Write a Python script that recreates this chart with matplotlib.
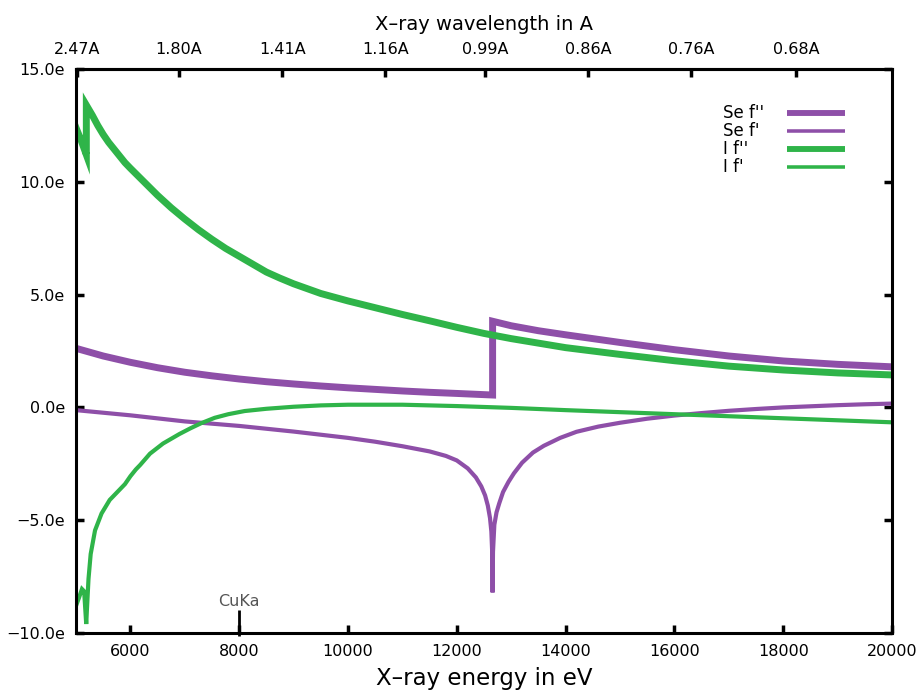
import matplotlib
matplotlib.use("Agg")
import matplotlib.pyplot as plt

# energies (eV) and anomalous scattering factors
se_fpp_e = [5000, 5500, 6000, 6500, 7000, 7500, 8000, 8500, 9000, 9500, 10000,
            10500, 11000, 11500, 12000, 12658, 12658, 13000, 13500, 14000, 15000,
            16000, 17000, 18000, 19000, 20000]
se_fpp = [2.62, 2.28, 2.0, 1.76, 1.56, 1.40, 1.26, 1.14, 1.04, 0.95, 0.87,
          0.80, 0.73, 0.67, 0.62, 0.55, 3.82, 3.62, 3.40, 3.22, 2.88,
          2.56, 2.28, 2.06, 1.91, 1.80]

se_fp_e = [5000, 6000, 7000, 8000, 9000, 10000, 10500, 11000, 11500, 11800, 12000,
           12200, 12350, 12450, 12520, 12570, 12610, 12635, 12650, 12658, 12665,
           12690, 12730, 12780, 12850, 12950, 13050, 13200, 13400, 13600, 13900,
           14200, 14600, 15000, 15500, 16000, 16500, 17000, 17500, 18000, 18500,
           19000, 19500, 20000]
se_fp = [-0.12, -0.35, -0.62, -0.82, -1.07, -1.35, -1.52, -1.72, -1.95, -2.15, -2.35,
         -2.7, -3.1, -3.5, -3.9, -4.35, -4.9, -5.5, -6.4, -8.2, -6.4,
         -5.2, -4.65, -4.25, -3.75, -3.3, -2.92, -2.45, -2.0, -1.7, -1.35,
         -1.08, -0.85, -0.68, -0.5, -0.36, -0.25, -0.15, -0.07, 0.0, 0.05,
         0.1, 0.14, 0.17]

i_fpp_e = [5000, 5100, 5190, 5190, 5300, 5400, 5500, 5600, 5700, 5800, 5900, 6000,
           6250, 6500, 6750, 7000, 7250, 7500, 7750, 8000, 8250, 8500, 8750, 9000,
           9500, 10000, 10500, 11000, 11500, 12000, 12500, 13000, 14000, 15000,
           16000, 17000, 18000, 19000, 20000]
i_fpp = [12.4, 11.8, 11.2, 13.4, 12.95, 12.5, 12.1, 11.75, 11.45, 11.15, 10.85, 10.6,
         10.0, 9.4, 8.85, 8.35, 7.88, 7.45, 7.05, 6.7, 6.35, 6.0, 5.73, 5.48,
         5.05, 4.72, 4.42, 4.12, 3.84, 3.55, 3.28, 3.05, 2.65, 2.35,
         2.07, 1.83, 1.66, 1.53, 1.44]

i_fp_e = [5000, 5060, 5110, 5150, 5188, 5200, 5230, 5270, 5350, 5470, 5620, 5800,
          5900, 6000, 6100, 6180, 6360, 6600, 6900, 7100, 7300, 7550, 7800, 8100,
          8500, 9000, 9500, 10000, 11000, 12000, 13000, 14000, 15000, 16000, 17000,
          18000, 19000, 20000]
i_fp = [-8.8, -8.4, -8.05, -8.15, -9.6, -9.0, -7.6, -6.5, -5.45, -4.7, -4.1, -3.65,
        -3.4, -3.05, -2.75, -2.55, -2.05, -1.6, -1.18, -0.93, -0.7, -0.46, -0.3, -0.16,
        -0.06, 0.03, 0.09, 0.12, 0.12, 0.06, -0.02, -0.12, -0.21, -0.3, -0.39,
        -0.48, -0.57, -0.66]

x_ticks = [6000, 8000, 10000, 12000, 14000, 16000, 18000, 20000]
y_ticks = [-10, -5, 0, 5, 10, 15]
y_labels = ["\u221210.0e", "\u22125.0e", "0.0e", "5.0e", "10.0e", "15.0e"]
wl_ticks = [2.47, 1.80, 1.41, 1.16, 0.99, 0.86, 0.76, 0.68]
cuka_e = 8000
hc = 12398.0  # eV*A

purple = "#8e4fa8"
green = "#2fb449"

fig = plt.figure(figsize=(9.2, 6.91), dpi=100)
ax = fig.add_axes([0.0826, 0.0839, 0.8870, 0.8162])

series = [
    (se_fpp_e, se_fpp, purple, 5, "Se f''"),
    (se_fp_e, se_fp, purple, 3, "Se f'"),
    (i_fpp_e, i_fpp, green, 5, "I f''"),
    (i_fp_e, i_fp, green, 3, "I f'"),
]
for e, v, c, lw, name in series:
    ax.plot(e, v, color=c, lw=lw, solid_joinstyle="miter")

# gnuplot-style key: left-aligned text, samples lined up on the right
for i, (e, v, c, lw, name) in enumerate(series):
    yk = 0.922 - i * 0.032
    ax.text(0.793, yk, name, transform=ax.transAxes, ha="left", va="center",
            fontsize=12)
    ax.plot([0.871, 0.942], [yk, yk], transform=ax.transAxes, color=c,
            lw=lw * 0.85, solid_capstyle="butt")

ax.vlines(cuka_e, -10.15, -9.0, color="black", lw=2, clip_on=False, zorder=5)
ax.text(cuka_e, -8.95, "CuKa", ha="center", va="bottom", fontsize=11.5, color="#555555")

ax.set_xlim(5000, 20000)
ax.set_ylim(-10, 15)
ax.set_xticks(x_ticks)
ax.set_yticks(y_ticks)
ax.set_yticklabels(y_labels)
ax.tick_params(direction="in", length=6, width=2.5, right=True, top=False,
               labelsize=11.5, pad=8)
for s in ax.spines.values():
    s.set_linewidth(2.2)
ax.set_xlabel("X\u2013ray energy in eV", fontsize=16.5, labelpad=6)

secax = ax.secondary_xaxis("top", functions=(lambda e: hc / e, lambda w: hc / w))
secax.set_ticks(wl_ticks)
secax.set_xticklabels(["%.2fA" % w for w in wl_ticks])
secax.tick_params(direction="in", length=6, width=2.5, labelsize=11.5, pad=9)
secax.spines["top"].set_linewidth(2.2)
secax.set_xlabel("X\u2013ray wavelength in A", fontsize=14, labelpad=8)

fig.savefig("out.png", dpi=100)
